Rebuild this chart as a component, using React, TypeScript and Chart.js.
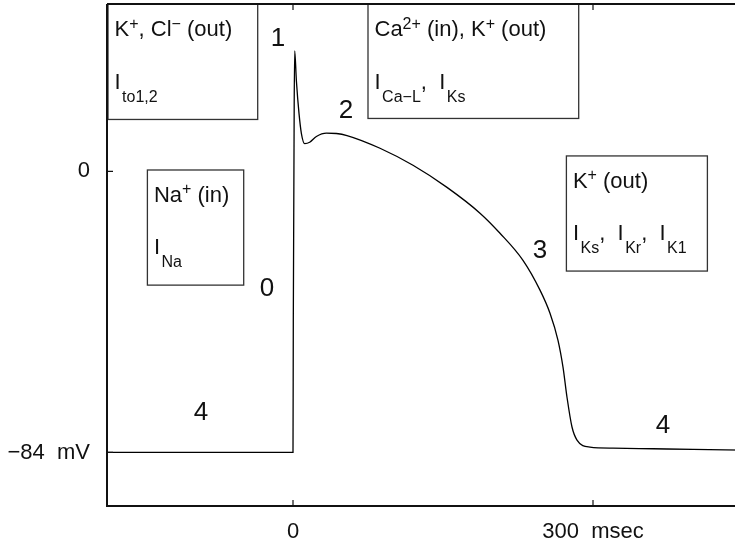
import { useEffect, useRef } from "react";
import { Chart, registerables } from "chart.js";

Chart.register(...registerables);

// Action potential trace: time (ms) and membrane potential (mV)
const timeMs = [-186, 0, 0.3, 1.2, 1.7, 3.4, 6, 8.4, 11.7, 16.7, 23.4, 33.4, 43.4, 54, 87, 120, 154, 187, 207, 230, 247, 257, 265, 270, 274, 279, 284, 297, 320, 360, 400, 450];
const membraneMv = [-84, -84, -45, 20, 36, 27, 17.3, 11.3, 8.3, 8.7, 10.4, 11.4, 11.3, 10.7, 6.9, 1.8, -4.8, -12.5, -18.5, -26.6, -35.5, -42.4, -50.5, -58.5, -67.5, -76.4, -80.3, -82.4, -82.7, -82.9, -83.1, -83.3];

const xMin = -186;
const xMax = 450;
const yMin = -100;
const yMax = 50;

const xTickValues = [0, 300];
const xTickLabels = ["0", "300  msec"];
const yTickValues = [-84, 0];
const yTickLabels = ["\u221284  mV", "0"];

// Phase numbers
const phaseLabels = ["1", "2", "3", "0", "4", "4"];
const phaseT = [-15, 53, 247, -26, -92, 370];
const phaseV = [40.1, 18.6, -23.2, -34.6, -71.6, -75.5];

// Ion-current boxes
type Seg = { t: string; k?: "sup" | "sub" };
const boxLeftT = [-185, 75, 273.4, -145.6];
const boxRightT = [-35.3, 285.7, 414.4, -49.3];
const boxTopV = [50, 50, 4.6, 0.4];
const boxBottomV = [15.5, 15.8, -29.8, -34.0];
const boxLine1: Seg[][] = [
  [{ t: "K" }, { t: "+", k: "sup" }, { t: ", Cl" }, { t: "\u2212", k: "sup" }, { t: " (out)" }],
  [{ t: "Ca" }, { t: "2+", k: "sup" }, { t: " (in), K" }, { t: "+", k: "sup" }, { t: " (out)" }],
  [{ t: "K" }, { t: "+", k: "sup" }, { t: " (out)" }],
  [{ t: "Na" }, { t: "+", k: "sup" }, { t: " (in)" }],
];
const boxLine2: Seg[][] = [
  [{ t: "I" }, { t: "to1,2", k: "sub" }],
  [{ t: "I" }, { t: "Ca\u2212L", k: "sub" }, { t: ",  I" }, { t: "Ks", k: "sub" }],
  [{ t: "I" }, { t: "Ks", k: "sub" }, { t: ",  I" }, { t: "Kr", k: "sub" }, { t: ",  I" }, { t: "K1", k: "sub" }],
  [{ t: "I" }, { t: "Na", k: "sub" }],
];

const FONT = '"Liberation Sans", Arial, Helvetica, sans-serif';

function drawSegs(ctx: CanvasRenderingContext2D, segs: Seg[], x: number, y: number) {
  let cx = x;
  for (const s of segs) {
    const size = s.k ? 16 : 22;
    const dy = s.k === "sup" ? -7.5 : s.k === "sub" ? 13 : 0;
    if (s.k === "sub") cx += 1.5;
    ctx.font = `${size}px ${FONT}`;
    ctx.fillText(s.t, cx, y + dy);
    cx += ctx.measureText(s.t).width;
  }
}

const overlayPlugin = {
  id: "overlay",
  afterDatasetsDraw(chart: any) {
    const { ctx, chartArea: a, scales } = chart;
    const xs = scales.x;
    const ys = scales.y;
    ctx.save();
    ctx.fillStyle = "#111";
    ctx.textAlign = "left";
    ctx.textBaseline = "alphabetic";
    for (let i = 0; i < boxLeftT.length; i++) {
      const l = xs.getPixelForValue(boxLeftT[i]);
      const r = xs.getPixelForValue(boxRightT[i]);
      const t = ys.getPixelForValue(boxTopV[i]);
      const b = ys.getPixelForValue(boxBottomV[i]);
      ctx.strokeStyle = "#333";
      ctx.lineWidth = 1.3;
      ctx.strokeRect(l, t, r - l, b - t);
      drawSegs(ctx, boxLine1[i], l + 6.5, t + 32);
      drawSegs(ctx, boxLine2[i], l + 6.5, t + 84.5);
    }
    ctx.font = `26px ${FONT}`;
    ctx.textAlign = "center";
    for (let i = 0; i < phaseLabels.length; i++) {
      const px = xs.getPixelForValue(phaseT[i]);
      const py = ys.getPixelForValue(phaseV[i]);
      ctx.fillText(phaseLabels[i], px, py + 0.716 * 26 / 2);
    }
    // frame
    ctx.strokeStyle = "#111";
    ctx.lineWidth = 2;
    ctx.beginPath();
    ctx.moveTo(a.left, a.top);
    ctx.lineTo(a.right, a.top);
    ctx.moveTo(a.left, a.top);
    ctx.lineTo(a.left, a.bottom);
    ctx.lineTo(a.right, a.bottom);
    ctx.stroke();
    // inward ticks
    ctx.lineWidth = 1.2;
    ctx.beginPath();
    for (const v of xTickValues) {
      const px = xs.getPixelForValue(v);
      ctx.moveTo(px, a.bottom);
      ctx.lineTo(px, a.bottom - 6);
      ctx.moveTo(px, a.top);
      ctx.lineTo(px, a.top + 6);
    }
    for (const v of yTickValues) {
      const py = ys.getPixelForValue(v);
      ctx.moveTo(a.left, py);
      ctx.lineTo(a.left + 6, py);
      ctx.moveTo(a.right, py);
      ctx.lineTo(a.right - 6, py);
    }
    ctx.stroke();
    ctx.restore();
  },
};

export default function App() {
  const ref = useRef<HTMLCanvasElement | null>(null);
  useEffect(() => {
    if (!ref.current) return;
    const chart = new Chart(ref.current, {
      type: "line",
      data: {
        datasets: [
          {
            data: timeMs.map((t, i) => ({ x: t, y: membraneMv[i] })),
            borderColor: "#000",
            borderWidth: 1.3,
            pointRadius: 0,
            cubicInterpolationMode: "monotone",
            fill: false,
          },
        ],
      },
      options: {
        animation: false,
        responsive: false,
        maintainAspectRatio: false,
        layout: { padding: { top: 4, left: 0, right: 0, bottom: 0 } },
        plugins: { legend: { display: false }, tooltip: { enabled: false } },
        scales: {
          x: {
            type: "linear",
            min: xMin,
            max: xMax,
            afterBuildTicks: (s: any) => {
              s.ticks = xTickValues.map((v) => ({ value: v }));
            },
            afterFit: (s: any) => {
              s.height = 38;
              s.paddingLeft = 0;
              s.paddingRight = 0;
              s.paddingTop = 0;
              s.paddingBottom = 0;
            },
            ticks: {
              callback: (_v: any, i: number) => xTickLabels[i],
              font: { family: FONT, size: 22 },
              color: "#111",
              padding: 13,
              maxRotation: 0,
              autoSkip: false,
            },
            grid: { display: false, drawTicks: false, tickLength: 0 },
            border: { display: false },
          },
          y: {
            type: "linear",
            min: yMin,
            max: yMax,
            afterBuildTicks: (s: any) => {
              s.ticks = yTickValues.map((v) => ({ value: v }));
            },
            afterFit: (s: any) => {
              s.width = 107;
              s.paddingLeft = 0;
              s.paddingRight = 0;
              s.paddingTop = 0;
              s.paddingBottom = 0;
            },
            ticks: {
              callback: (_v: any, i: number) => yTickLabels[i],
              font: { family: FONT, size: 22 },
              color: "#111",
              padding: 17,
              autoSkip: false,
            },
            grid: { display: false, drawTicks: false, tickLength: 0 },
            border: { display: false },
          },
        },
      },
      plugins: [overlayPlugin],
    } as any);
    return () => chart.destroy();
  }, []);
  return (
    <div style={{ position: "fixed", left: 0, top: 0, width: 735, height: 544, overflow: "hidden", background: "#fff" }}>
      <canvas ref={ref} width={743} height={544} style={{ width: 743, height: 544, display: "block" }} />
    </div>
  );
}
